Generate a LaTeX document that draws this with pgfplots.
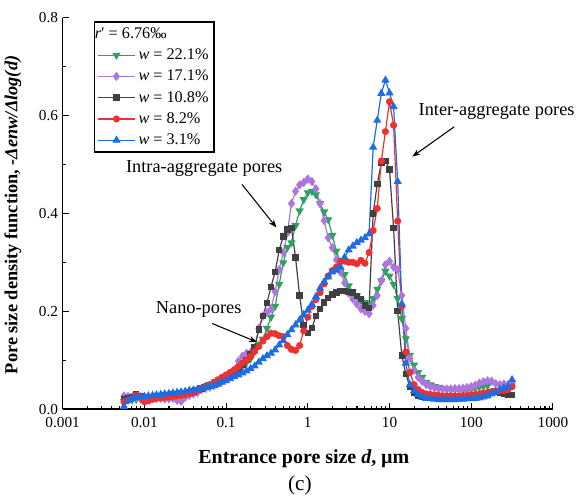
\documentclass[border=0pt]{standalone}
\usepackage{fontspec}
\setmainfont{Liberation Serif}
\usepackage{pgfplots}
\pgfplotsset{compat=1.18}
\usepackage{pgfplotstable}
\usetikzlibrary{arrows.meta}

\definecolor{cgreen}{RGB}{46,160,96}
\definecolor{cpurple}{RGB}{172,118,222}
\definecolor{cblack}{RGB}{64,64,64}
\definecolor{cred}{RGB}{238,48,48}
\definecolor{cblue}{RGB}{28,108,228}

% Pore size density: d (um); g = 22.1%, p = 17.1%, k = 10.8%, r = 8.2%, b = 3.1%
\pgfplotstableread{
d        g      p      k      r      b
0.005623 0.016  0.027  0.020  0.015  0.005
0.006310 0.018  0.026  0.022  0.018  0.018
0.007079 0.019  0.025  0.024  0.022  0.022
0.007943 0.020  0.024  0.031  0.029  0.024
0.008913 0.021  0.023  0.027  0.024  0.025
0.01     0.021  0.022  0.023  0.015  0.026
0.01122  0.022  0.022  0.024  0.017  0.027
0.01259  0.023  0.023  0.025  0.020  0.028
0.01413  0.024  0.022  0.026  0.022  0.029
0.01585  0.025  0.022  0.027  0.023  0.030
0.01778  0.026  0.021  0.028  0.024  0.031
0.01995  0.027  0.021  0.029  0.025  0.032
0.02239  0.028  0.022  0.030  0.026  0.033
0.02512  0.029  0.018  0.031  0.027  0.034
0.02818  0.030  0.016  0.032  0.028  0.035
0.03162  0.031  0.024  0.033  0.030  0.036
0.03548  0.032  0.028  0.034  0.032  0.038
0.03981  0.034  0.031  0.036  0.035  0.039
0.04467  0.037  0.034  0.039  0.039  0.040
0.05012  0.040  0.040  0.042  0.043  0.042
0.05623  0.043  0.043  0.045  0.047  0.044
0.06310  0.046  0.045  0.048  0.050  0.046
0.07079  0.050  0.048  0.052  0.055  0.048
0.07943  0.054  0.052  0.056  0.060  0.051
0.08913  0.058  0.057  0.061  0.065  0.055
0.1      0.063  0.063  0.066  0.070  0.058
0.1122   0.068  0.070  0.071  0.075  0.062
0.1259   0.074  0.080  0.077  0.080  0.066
0.1413   0.080  0.098  0.083  0.087  0.070
0.1585   0.087  0.108  0.090  0.094  0.074
0.1778   0.095  0.114  0.100  0.100  0.078
0.1995   0.103  0.116  0.112  0.108  0.083
0.2239   0.118  0.125  0.126  0.118  0.088
0.2512   0.133  0.165  0.163  0.128  0.096
0.2818   0.143  0.190  0.190  0.139  0.103
0.3162   0.165  0.197  0.217  0.148  0.109
0.3548   0.188  0.205  0.250  0.155  0.114
0.3981   0.210  0.240  0.280  0.154  0.121
0.4467   0.255  0.285  0.325  0.150  0.131
0.5012   0.299  0.320  0.353  0.148  0.140
0.5623   0.330  0.360  0.367  0.130  0.152
0.6310   0.340  0.420  0.370  0.122  0.162
0.7079   0.375  0.445  0.310  0.120  0.172
0.7943   0.405  0.458  0.232  0.130  0.182
0.8913   0.428  0.463  0.172  0.160  0.193
1        0.442  0.470  0.156  0.188  0.202
1.122    0.445  0.465  0.166  0.210  0.214
1.259    0.438  0.450  0.190  0.224  0.230
1.413    0.420  0.420  0.205  0.238  0.247
1.585    0.403  0.385  0.218  0.256  0.260
1.778    0.387  0.350  0.227  0.272  0.270
1.995    0.355  0.330  0.234  0.283  0.280
2.239    0.323  0.305  0.238  0.290  0.284
2.512    0.300  0.280  0.241  0.302  0.290
2.818    0.275  0.258  0.241  0.302  0.310
3.162    0.252  0.237  0.239  0.300  0.325
3.548    0.240  0.225  0.238  0.300  0.333
3.981    0.231  0.215  0.231  0.297  0.340
4.467    0.222  0.205  0.225  0.304  0.345
5.012    0.218  0.200  0.212  0.298  0.350
5.623    0.215  0.195  0.207  0.320  0.358
6.310    0.226  0.212  0.400  0.365  0.535
7.079    0.245  0.232  0.460  0.410  0.590
7.943    0.262  0.262  0.503  0.507  0.645
8.913    0.282  0.295  0.507  0.567  0.672
10       0.272  0.302  0.490  0.628  0.646
11.22    0.255  0.290  0.370  0.580  0.618
12.59    0.226  0.285  0.200  0.384  0.465
14.13    0.185  0.232  0.110  0.210  0.215
15.85    0.144  0.165  0.072  0.117  0.094
17.78    0.110  0.104  0.045  0.075  0.050
19.95    0.090  0.080  0.033  0.050  0.037
22.39    0.075  0.065  0.028  0.040  0.030
25.12    0.065  0.057  0.026  0.034  0.025
28.18    0.055  0.050  0.025  0.031  0.022
31.62    0.050  0.046  0.024  0.030  0.021
35.48    0.046  0.044  0.024  0.029  0.020
39.81    0.044  0.042  0.024  0.028  0.019
44.67    0.042  0.041  0.023  0.027  0.019
50.12    0.041  0.041  0.023  0.027  0.019
56.23    0.040  0.041  0.023  0.027  0.019
63.10    0.040  0.042  0.023  0.027  0.019
70.79    0.040  0.042  0.024  0.027  0.020
79.43    0.040  0.043  0.024  0.028  0.020
89.13    0.040  0.044  0.024  0.028  0.021
100      0.041  0.046  0.024  0.029  0.021
112.2    0.043  0.049  0.025  0.030  0.022
125.9    0.045  0.053  0.025  0.031  0.023
141.3    0.047  0.056  0.027  0.033  0.025
158.5    0.048  0.058  0.030  0.034  0.027
177.8    nan    0.057  0.034  0.036  0.031
199.5    nan    0.052  0.036  0.037  0.035
223.9    nan    0.050  0.034  0.038  0.040
251.2    nan    0.051  0.031  0.038  0.043
281.8    nan    0.050  0.029  0.040  0.046
316.2    nan    0.053  0.029  0.046  0.060
}\psd

\begin{document}
\begin{tikzpicture}
\begin{axis}[
  scale only axis,
  width=369pt, height=294.75pt,
  xmode=log, xmin=0.001, xmax=1000, ymin=0, ymax=0.8,
  axis x line*=bottom, axis y line*=left,
  axis line style={line width=1pt, -},
  tick align=inside,
  major tick length=4.5pt, minor tick length=2.5pt,
  every tick/.style={black, line width=0.8pt},
  xtick={0.001,0.01,0.1,1,10,100,1000},
  xticklabels={0.001,0.01,0.1,1,10,100,1000},
  minor xtick={0.002,0.003,0.004,0.005,0.006,0.007,0.008,0.009,
               0.02,0.03,0.04,0.05,0.06,0.07,0.08,0.09,
               0.2,0.3,0.4,0.5,0.6,0.7,0.8,0.9,
               2,3,4,5,6,7,8,9,
               20,30,40,50,60,70,80,90,
               200,300,400,500,600,700,800,900},
  ytick={0,0.2,0.4,0.6,0.8},
  minor ytick={0.1,0.3,0.5,0.7},
  yticklabel style={/pgf/number format/.cd, fixed, fixed zerofill, precision=1},
  /pgf/number format/assume math mode=true,
  tick label style={font=\fontsize{11.5}{13}\selectfont, black},
  xticklabel style={yshift=-2.8pt},
  xlabel={\bfseries Entrance pore size \textit{d}, µm},
  xlabel style={at={(axis description cs:0.492,0)}, anchor=center, yshift=-37.5pt,
                font=\fontsize{15}{17}\selectfont},
  ylabel={\bfseries Pore size density function, \textit{-Δenw/Δlog(d)}},
  ylabel style={at={(axis description cs:-0.1016,0.496)}, anchor=center,
                font=\fontsize{13.8}{16}\selectfont},
  clip=false,
  legend cell align=left,
  legend style={at={(0.063,0.99)}, anchor=north west, draw=black, line width=1.1pt,
                font=\fontsize{12.2}{13.5}\selectfont, fill=white,
                inner xsep=2pt, inner ysep=2pt, row sep=2.4pt},
  legend image code/.code={%
    \draw[mark repeat=2, mark phase=2] plot coordinates {(0cm,0cm) (0.5cm,0cm) (1cm,0cm)};},
]
\addlegendimage{empty legend}
\addlegendentry{\hspace*{-33pt}\textit{r}′ = 6.76‰}

\addplot[color=cgreen, line width=0.9pt, mark=triangle*, mark size=2.7pt,
         mark options={rotate=180, solid}] table[x=d, y=g]{\psd};
\addlegendentry{\textit{w} = 22.1\%}
\addplot[color=cpurple, line width=0.9pt, mark=diamond*, mark size=2.8pt,
         mark options={solid}] table[x=d, y=p]{\psd};
\addlegendentry{\textit{w} = 17.1\%}
\addplot[color=cblack, line width=0.9pt, mark=square*, mark size=2pt,
         mark options={solid}] table[x=d, y=k]{\psd};
\addlegendentry{\textit{w} = 10.8\%}
\addplot[color=cred, line width=0.9pt, mark=*, mark size=2.2pt,
         mark options={solid}] table[x=d, y=r]{\psd};
\addlegendentry{\textit{w} = 8.2\%}
\addplot[color=cblue, line width=0.9pt, mark=triangle*, mark size=2.7pt,
         mark options={solid}] table[x=d, y=b]{\psd};
\addlegendentry{\textit{w} = 3.1\%}

% annotations
\node[font=\fontsize{13.8}{16}\selectfont] at (axis cs:204.6,0.6075) {Inter-aggregate pores};
\draw[-{Stealth[length=6pt,width=4.5pt]}, line width=0.8pt] (axis cs:62.1,0.577) -- (axis cs:19.06,0.516);
\node[font=\fontsize{13.8}{16}\selectfont] at (axis cs:0.054,0.491) {Intra-aggregate pores};
\draw[-{Stealth[length=6pt,width=4.5pt]}, line width=0.8pt] (axis cs:0.1567,0.459) -- (axis cs:0.413,0.371);
\node[font=\fontsize{13.8}{16}\selectfont] at (axis cs:0.0462,0.204) {Nano-pores};
\draw[-{Stealth[length=6pt,width=4.5pt]}, line width=0.8pt] (axis cs:0.0675,0.175) -- (axis cs:0.239,0.137);

\node[font=\fontsize{16}{18}\selectfont] at ([yshift=-57.75pt]axis description cs:0.484,0) {(c)};

\coordinate (O) at (rel axis cs:0,0);
\coordinate (T) at (rel axis cs:1,1);
\end{axis}
\path (O) ++(-46.5pt,-69pt) coordinate (BL);
\path (T) ++(18.75pt,13.2pt) coordinate (TR);
\path (BL) rectangle (TR);
\end{tikzpicture}
\end{document}
